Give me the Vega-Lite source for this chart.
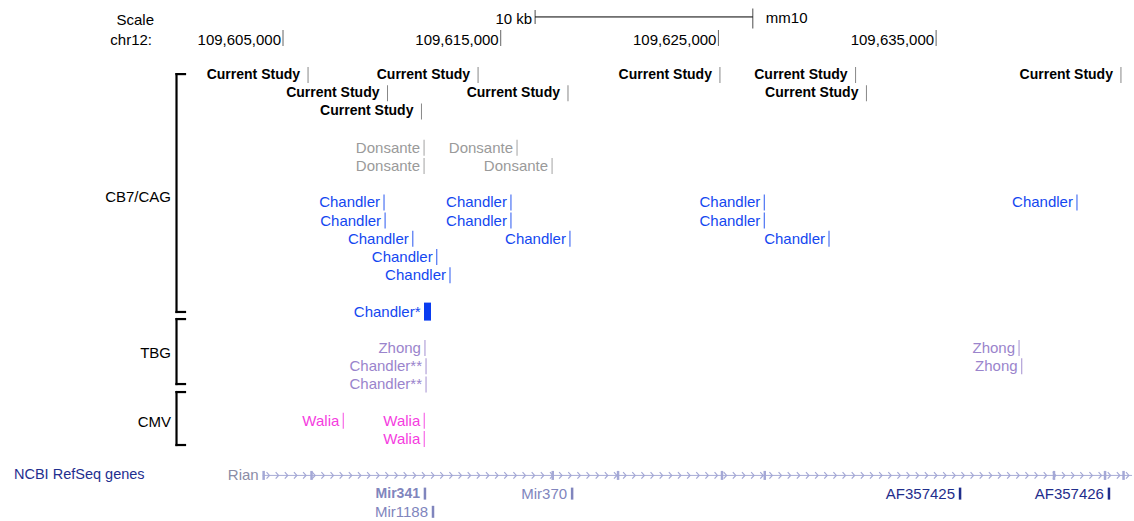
{
  "$schema": "https://vega.github.io/schema/vega-lite/v6.json",
  "width": 1134,
  "height": 521,
  "autosize": {"type": "fit", "contains": "padding"},
  "padding": 0,
  "background": "white",
  "config": {
    "view": {"stroke": null},
    "text": {"font": "Liberation Sans", "fontSize": 15, "baseline": "middle"}
  },
  "resolve": {"scale": {"color": "independent"}},
  "datasets": {
    "one": [{}],
    "coords": [
      {"pos": 109605000, "label": "109,605,000"},
      {"pos": 109615000, "label": "109,615,000"},
      {"pos": 109625000, "label": "109,625,000"},
      {"pos": 109635000, "label": "109,635,000"}
    ],
    "scalebar": [
      {"pos": 109616580, "end": 109626580}
    ],
    "brackets": [
      {"promoter": "CB7/CAG", "top": -0.05, "bottom": 13.02, "mid": 6.7},
      {"promoter": "TBG", "top": 13.41, "bottom": 16.98, "mid": 15.27},
      {"promoter": "CMV", "top": 17.42, "bottom": 20.33, "mid": 19.07}
    ],
    "features": [
      {"set": "Current Study", "label": "Current Study", "pos": 109606150, "lane": 0},
      {"set": "Current Study", "label": "Current Study", "pos": 109613960, "lane": 0},
      {"set": "Current Study", "label": "Current Study", "pos": 109625070, "lane": 0},
      {"set": "Current Study", "label": "Current Study", "pos": 109631300, "lane": 0},
      {"set": "Current Study", "label": "Current Study", "pos": 109643490, "lane": 0},
      {"set": "Current Study", "label": "Current Study", "pos": 109609800, "lane": 1},
      {"set": "Current Study", "label": "Current Study", "pos": 109618090, "lane": 1},
      {"set": "Current Study", "label": "Current Study", "pos": 109631800, "lane": 1},
      {"set": "Current Study", "label": "Current Study", "pos": 109611360, "lane": 2},
      {"set": "Donsante", "label": "Donsante", "pos": 109611480, "lane": 4},
      {"set": "Donsante", "label": "Donsante", "pos": 109615750, "lane": 4},
      {"set": "Donsante", "label": "Donsante", "pos": 109611480, "lane": 5},
      {"set": "Donsante", "label": "Donsante", "pos": 109617360, "lane": 5},
      {"set": "Chandler", "label": "Chandler", "pos": 109609640, "lane": 7},
      {"set": "Chandler", "label": "Chandler", "pos": 109615470, "lane": 7},
      {"set": "Chandler", "label": "Chandler", "pos": 109627110, "lane": 7},
      {"set": "Chandler", "label": "Chandler", "pos": 109641470, "lane": 7},
      {"set": "Chandler", "label": "Chandler", "pos": 109609690, "lane": 8},
      {"set": "Chandler", "label": "Chandler", "pos": 109615470, "lane": 8},
      {"set": "Chandler", "label": "Chandler", "pos": 109627110, "lane": 8},
      {"set": "Chandler", "label": "Chandler", "pos": 109610960, "lane": 9},
      {"set": "Chandler", "label": "Chandler", "pos": 109618180, "lane": 9},
      {"set": "Chandler", "label": "Chandler", "pos": 109630080, "lane": 9},
      {"set": "Chandler", "label": "Chandler", "pos": 109612060, "lane": 10},
      {"set": "Chandler", "label": "Chandler", "pos": 109612670, "lane": 11},
      {"set": "TBG", "label": "Zhong", "pos": 109611520, "lane": 15},
      {"set": "TBG", "label": "Zhong", "pos": 109638810, "lane": 15},
      {"set": "TBG", "label": "Chandler**", "pos": 109611570, "lane": 16},
      {"set": "TBG", "label": "Zhong", "pos": 109638930, "lane": 16},
      {"set": "TBG", "label": "Chandler**", "pos": 109611570, "lane": 17},
      {"set": "CMV", "label": "Walia", "pos": 109607770, "lane": 19},
      {"set": "CMV", "label": "Walia", "pos": 109611490, "lane": 19},
      {"set": "CMV", "label": "Walia", "pos": 109611490, "lane": 20}
    ],
    "blocks": [
      {"set": "Chandler", "label": "Chandler*", "pos": 109611638, "lane": 13}
    ],
    "rian": [
      {"gene": "Rian", "start": 109604067, "end": 109644000, "lane": 22}
    ],
    "exons": [
      {"pos": 109604110}, {"pos": 109606310}, {"pos": 109617390}, {"pos": 109620390},
      {"pos": 109625165}, {"pos": 109627130}, {"pos": 109640415}, {"pos": 109642760},
      {"pos": 109643610}
    ],
    "chevrons": [
      {"p": 109604310}, {"p": 109604730}, {"p": 109605150}, {"p": 109605570}, {"p": 109605990},
      {"p": 109606410}, {"p": 109606830}, {"p": 109607250}, {"p": 109607670}, {"p": 109608090},
      {"p": 109608510}, {"p": 109608930}, {"p": 109609350}, {"p": 109609770}, {"p": 109610190},
      {"p": 109610610}, {"p": 109611030}, {"p": 109611450}, {"p": 109611870}, {"p": 109612290},
      {"p": 109612710}, {"p": 109613130}, {"p": 109613550}, {"p": 109613970}, {"p": 109614390},
      {"p": 109614810}, {"p": 109615230}, {"p": 109615650}, {"p": 109616070}, {"p": 109616490},
      {"p": 109616910}, {"p": 109617330}, {"p": 109617750}, {"p": 109618170}, {"p": 109618590},
      {"p": 109619010}, {"p": 109619430}, {"p": 109619850}, {"p": 109620270}, {"p": 109620690},
      {"p": 109621110}, {"p": 109621530}, {"p": 109621950}, {"p": 109622370}, {"p": 109622790},
      {"p": 109623210}, {"p": 109623630}, {"p": 109624050}, {"p": 109624470}, {"p": 109624890},
      {"p": 109625310}, {"p": 109625730}, {"p": 109626150}, {"p": 109626570}, {"p": 109626990},
      {"p": 109627410}, {"p": 109627830}, {"p": 109628250}, {"p": 109628670}, {"p": 109629090},
      {"p": 109629510}, {"p": 109629930}, {"p": 109630350}, {"p": 109630770}, {"p": 109631190},
      {"p": 109631610}, {"p": 109632030}, {"p": 109632450}, {"p": 109632870}, {"p": 109633290},
      {"p": 109633710}, {"p": 109634130}, {"p": 109634550}, {"p": 109634970}, {"p": 109635390},
      {"p": 109635810}, {"p": 109636230}, {"p": 109636650}, {"p": 109637070}, {"p": 109637490},
      {"p": 109637910}, {"p": 109638330}, {"p": 109638750}, {"p": 109639170}, {"p": 109639590},
      {"p": 109640010}, {"p": 109640430}, {"p": 109640850}, {"p": 109641270}, {"p": 109641690},
      {"p": 109642110}, {"p": 109642530}, {"p": 109642950}, {"p": 109643370}, {"p": 109643790}
    ],
    "genes": [
      {"gene": "Mir341", "kind": "mir", "bold": true, "pos": 109611520, "lane": 23},
      {"gene": "Mir1188", "kind": "mir", "bold": false, "pos": 109611890, "lane": 24},
      {"gene": "Mir370", "kind": "mir", "bold": false, "pos": 109618280, "lane": 23},
      {"gene": "AF357425", "kind": "af", "bold": false, "pos": 109636100, "lane": 23},
      {"gene": "AF357426", "kind": "af", "bold": false, "pos": 109642940, "lane": 23}
    ]
  },
  "layer": [
    {
      "data": {"name": "scalebar"},
      "mark": {"type": "rule", "color": "#000000", "strokeWidth": 1},
      "encoding": {
        "x": {"field": "pos", "type": "quantitative", "scale": {"domain": [109592000, 109644090], "nice": false, "zero": false}, "axis": null},
        "x2": {"field": "end"},
        "y": {"datum": -3.19, "type": "quantitative", "scale": {"domain": [-4.121, 24.505], "reverse": true, "nice": false, "zero": false}, "axis": null}
      }
    },
    {
      "data": {"name": "scalebar"},
      "mark": {"type": "tick", "orient": "vertical", "color": "#000000", "thickness": 1, "size": 14},
      "encoding": {
        "x": {"field": "pos", "type": "quantitative", "axis": null},
        "y": {"datum": -3.19, "type": "quantitative", "axis": null}
      }
    },
    {
      "data": {"name": "scalebar"},
      "mark": {"type": "tick", "orient": "vertical", "color": "#000000", "thickness": 1, "size": 20},
      "encoding": {
        "x": {"field": "end", "type": "quantitative", "axis": null},
        "y": {"datum": -3.1, "type": "quantitative", "axis": null}
      }
    },
    {
      "data": {"name": "scalebar"},
      "mark": {"type": "text", "align": "right", "dx": -3, "color": "#000000", "text": "10 kb"},
      "encoding": {
        "x": {"field": "pos", "type": "quantitative", "axis": null},
        "y": {"datum": -3.1, "type": "quantitative", "axis": null}
      }
    },
    {
      "data": {"name": "scalebar"},
      "mark": {"type": "text", "align": "left", "dx": 13, "color": "#000000", "text": "mm10"},
      "encoding": {
        "x": {"field": "end", "type": "quantitative", "axis": null},
        "y": {"datum": -3.15, "type": "quantitative", "axis": null}
      }
    },
    {
      "data": {"name": "one"},
      "mark": {"type": "text", "align": "right", "color": "#000000", "text": "Scale"},
      "encoding": {
        "x": {"datum": 109599075, "type": "quantitative", "axis": null},
        "y": {"datum": -3.0, "type": "quantitative", "axis": null}
      }
    },
    {
      "data": {"name": "one"},
      "mark": {"type": "text", "align": "right", "color": "#000000", "text": "chr12:"},
      "encoding": {
        "x": {"datum": 109598982, "type": "quantitative", "axis": null},
        "y": {"datum": -1.92, "type": "quantitative", "axis": null}
      }
    },
    {
      "data": {"name": "coords"},
      "mark": {"type": "tick", "orient": "vertical", "color": "#222222", "thickness": 1, "size": 16},
      "encoding": {
        "x": {"field": "pos", "type": "quantitative", "axis": null},
        "y": {"datum": -2.03, "type": "quantitative", "axis": null}
      }
    },
    {
      "data": {"name": "coords"},
      "mark": {"type": "text", "align": "right", "dx": -2, "color": "#000000"},
      "encoding": {
        "x": {"field": "pos", "type": "quantitative", "axis": null},
        "y": {"datum": -1.92, "type": "quantitative", "axis": null},
        "text": {"field": "label"}
      }
    },
    {
      "data": {"name": "brackets"},
      "mark": {"type": "rule", "color": "#000000", "strokeWidth": 2.2, "strokeCap": "square"},
      "encoding": {
        "x": {"datum": 109600108, "type": "quantitative", "axis": null},
        "y": {"field": "top", "type": "quantitative", "axis": null},
        "y2": {"field": "bottom"}
      }
    },
    {
      "data": {"name": "brackets"},
      "mark": {"type": "rule", "color": "#000000", "strokeWidth": 2.2, "strokeCap": "square"},
      "encoding": {
        "x": {"datum": 109600108, "type": "quantitative", "axis": null},
        "x2": {"datum": 109600498},
        "y": {"field": "top", "type": "quantitative", "axis": null}
      }
    },
    {
      "data": {"name": "brackets"},
      "mark": {"type": "rule", "color": "#000000", "strokeWidth": 2.2, "strokeCap": "square"},
      "encoding": {
        "x": {"datum": 109600108, "type": "quantitative", "axis": null},
        "x2": {"datum": 109600498},
        "y": {"field": "bottom", "type": "quantitative", "axis": null}
      }
    },
    {
      "data": {"name": "brackets"},
      "mark": {"type": "text", "align": "right", "color": "#000000"},
      "encoding": {
        "x": {"datum": 109599855, "type": "quantitative", "axis": null},
        "y": {"field": "mid", "type": "quantitative", "axis": null},
        "text": {"field": "promoter"}
      }
    },
    {
      "data": {"name": "features"},
      "transform": [{"filter": "datum.set === 'Current Study'"}],
      "mark": {"type": "tick", "orient": "vertical", "color": "#555555", "thickness": 1, "size": 16},
      "encoding": {
        "x": {"field": "pos", "type": "quantitative", "axis": null},
        "y": {"field": "lane", "type": "quantitative", "axis": null}
      }
    },
    {
      "data": {"name": "features"},
      "transform": [{"filter": "datum.set === 'Current Study'"}],
      "mark": {"type": "text", "align": "right", "dx": -8, "fontSize": 14, "fontWeight": "bold", "color": "#000000"},
      "encoding": {
        "x": {"field": "pos", "type": "quantitative", "axis": null},
        "y": {"field": "lane", "type": "quantitative", "axis": null},
        "text": {"field": "label"}
      }
    },
    {
      "data": {"name": "features"},
      "transform": [{"filter": "datum.set !== 'Current Study'"}],
      "mark": {"type": "tick", "orient": "vertical", "thickness": 1.3, "size": 16},
      "encoding": {
        "x": {"field": "pos", "type": "quantitative", "axis": null},
        "y": {"field": "lane", "type": "quantitative", "axis": null},
        "color": {"field": "set", "type": "nominal", "legend": null, "scale": {"domain": ["Donsante", "Chandler", "TBG", "CMV"], "range": ["#9a9a9a", "#1447f0", "#9a84cc", "#f53ce0"]}}
      }
    },
    {
      "data": {"name": "features"},
      "transform": [{"filter": "datum.set !== 'Current Study'"}],
      "mark": {"type": "text", "align": "right", "dx": -4},
      "encoding": {
        "x": {"field": "pos", "type": "quantitative", "axis": null},
        "y": {"field": "lane", "type": "quantitative", "axis": null},
        "text": {"field": "label"},
        "color": {"field": "set", "type": "nominal", "legend": null, "scale": {"domain": ["Donsante", "Chandler", "TBG", "CMV"], "range": ["#9a9a9a", "#1447f0", "#9a84cc", "#f53ce0"]}}
      }
    },
    {
      "data": {"name": "blocks"},
      "mark": {"type": "tick", "orient": "vertical", "thickness": 7, "size": 18, "color": "#0a3cf0", "opacity": 1},
      "encoding": {
        "x": {"field": "pos", "type": "quantitative", "axis": null},
        "y": {"field": "lane", "type": "quantitative", "axis": null}
      }
    },
    {
      "data": {"name": "blocks"},
      "mark": {"type": "text", "align": "right", "dx": -7, "color": "#1447f0"},
      "encoding": {
        "x": {"field": "pos", "type": "quantitative", "axis": null},
        "y": {"field": "lane", "type": "quantitative", "axis": null},
        "text": {"field": "label"}
      }
    },
    {
      "data": {"name": "one"},
      "mark": {"type": "text", "align": "left", "fontSize": 14.5, "color": "#1f2f8f", "text": "NCBI RefSeq genes"},
      "encoding": {
        "x": {"datum": 109592643, "type": "quantitative", "axis": null},
        "y": {"datum": 22, "type": "quantitative", "axis": null}
      }
    },
    {
      "data": {"name": "rian"},
      "mark": {"type": "rule", "color": "#a9acd6", "strokeWidth": 1},
      "encoding": {
        "x": {"field": "start", "type": "quantitative", "axis": null},
        "x2": {"field": "end"},
        "y": {"field": "lane", "type": "quantitative", "axis": null}
      }
    },
    {
      "data": {"name": "chevrons"},
      "mark": {"type": "point", "shape": "M-0.45,-1L0.45,0L-0.45,1", "filled": false, "size": 42, "strokeWidth": 1.2, "color": "#a4a8d6", "opacity": 1},
      "encoding": {
        "x": {"field": "p", "type": "quantitative", "axis": null},
        "y": {"datum": 22, "type": "quantitative", "axis": null}
      }
    },
    {
      "data": {"name": "exons"},
      "mark": {"type": "tick", "orient": "vertical", "thickness": 2.5, "size": 9, "color": "#a4a8d6", "opacity": 1},
      "encoding": {
        "x": {"field": "pos", "type": "quantitative", "axis": null},
        "y": {"datum": 22, "type": "quantitative", "axis": null}
      }
    },
    {
      "data": {"name": "rian"},
      "mark": {"type": "text", "align": "right", "dx": -4, "color": "#8b8ca6"},
      "encoding": {
        "x": {"field": "start", "type": "quantitative", "axis": null},
        "y": {"field": "lane", "type": "quantitative", "axis": null},
        "text": {"field": "gene"}
      }
    },
    {
      "data": {"name": "genes"},
      "mark": {"type": "tick", "orient": "vertical", "thickness": 2.5, "size": 12, "opacity": 1},
      "encoding": {
        "x": {"field": "pos", "type": "quantitative", "axis": null},
        "y": {"field": "lane", "type": "quantitative", "axis": null},
        "color": {"field": "kind", "type": "nominal", "legend": null, "scale": {"domain": ["mir", "af"], "range": ["#8085bd", "#1f2e8c"]}}
      }
    },
    {
      "data": {"name": "genes"},
      "transform": [{"filter": "datum.bold"}],
      "mark": {"type": "text", "align": "right", "dx": -5, "fontWeight": "bold", "fontSize": 14},
      "encoding": {
        "x": {"field": "pos", "type": "quantitative", "axis": null},
        "y": {"field": "lane", "type": "quantitative", "axis": null},
        "text": {"field": "gene"},
        "color": {"field": "kind", "type": "nominal", "legend": null, "scale": {"domain": ["mir", "af"], "range": ["#8085bd", "#1f2e8c"]}}
      }
    },
    {
      "data": {"name": "genes"},
      "transform": [{"filter": "!datum.bold"}],
      "mark": {"type": "text", "align": "right", "dx": -5},
      "encoding": {
        "x": {"field": "pos", "type": "quantitative", "axis": null},
        "y": {"field": "lane", "type": "quantitative", "axis": null},
        "text": {"field": "gene"},
        "color": {"field": "kind", "type": "nominal", "legend": null, "scale": {"domain": ["mir", "af"], "range": ["#8085bd", "#1f2e8c"]}}
      }
    }
  ]
}
